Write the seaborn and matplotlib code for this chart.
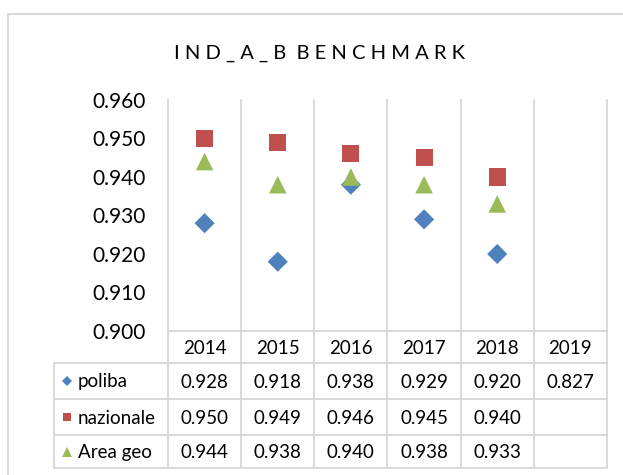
import numpy as np
import pandas as pd
import matplotlib
matplotlib.use("Agg")
import matplotlib.pyplot as plt
import seaborn as sns
from matplotlib.transforms import blended_transform_factory
from matplotlib.lines import Line2D

# ---- data ----
years = ["2014", "2015", "2016", "2017", "2018", "2019"]
poliba = [0.928, 0.918, 0.938, 0.929, 0.920, 0.827]
nazionale = [0.950, 0.949, 0.946, 0.945, 0.940, np.nan]
area_geo = [0.944, 0.938, 0.940, 0.938, 0.933, np.nan]
series_names = ["poliba", "nazionale", "Area geo"]
y_ticks = [0.900, 0.910, 0.920, 0.930, 0.940, 0.950, 0.960]
title = "IND_A_B BENCHMARK"

# ---- style ----
sns.set_style("white")
plt.rcParams["font.family"] = ["Lato", "DejaVu Sans"]

W, H = 623, 475
GRID = "#D9D9D9"
colors = {"poliba": "#4F81BD", "nazionale": "#C0504D", "Area geo": "#9BBB59"}
markers = {"poliba": "D", "nazionale": "s", "Area geo": "^"}
sizes = {"poliba": 105, "nazionale": 150, "Area geo": 160}
leg_ms = {"poliba": 5.0, "nazionale": 5.8, "Area geo": 7.2}


def fx(px):
    return px / W


def fy(py):
    return 1 - py / H


fig = plt.figure(figsize=(W / 100, H / 100), dpi=100)
ax = fig.add_axes([fx(168), fy(331), (607 - 168) / W, (331 - 100) / H])

df = pd.DataFrame({"pos": range(len(years)), "year": years,
                   "poliba": poliba, "nazionale": nazionale, "Area geo": area_geo})
long = df.melt(id_vars=["pos", "year"], var_name="serie", value_name="val").dropna()

for name in series_names:
    sub = long[long["serie"] == name]
    sns.scatterplot(data=sub, x="pos", y="val", marker=markers[name],
                    color=colors[name], s=sizes[name], edgecolor="none",
                    linewidth=0, ax=ax, legend=False, zorder=3)

ax.set_xlim(-0.5, len(years) - 0.5)
ax.set_ylim(y_ticks[0], y_ticks[-1])
ax.set_yticks(y_ticks)
ax.set_yticklabels([f"{v:.3f}" for v in y_ticks])
ax.set_xticks([])
ax.set_xlabel("")
ax.set_ylabel("")
for s in ["top", "right"]:
    ax.spines[s].set_visible(False)
for s in ["left", "bottom"]:
    ax.spines[s].set_color(GRID)
    ax.spines[s].set_linewidth(1.4)
ax.tick_params(axis="y", length=4.3, width=1.4, color=GRID, pad=11.5,
               labelsize=15, labelcolor="black")

# ---- data table ----
trans = blended_transform_factory(ax.transData, fig.transFigure)
top_px, bottom_px = 100, 468
for b in np.arange(-0.5, len(years)):
    ax.plot([b, b], [fy(top_px), fy(bottom_px)], transform=trans,
            color=GRID, lw=1.4, clip_on=False, zorder=1)

row_lines = [331, 363, 399, 435, 468]
for py in row_lines[1:]:
    fig.add_artist(Line2D([fx(54), fx(607)], [fy(py), fy(py)],
                          transform=fig.transFigure, color=GRID, lw=1.4))
fig.add_artist(Line2D([fx(54), fx(54)], [fy(363), fy(468)],
                      transform=fig.transFigure, color=GRID, lw=1.4))

hdr_y = (row_lines[0] + row_lines[1]) / 2
for i, yr in enumerate(years):
    ax.text(i, fy(hdr_y + 1), yr, transform=trans, ha="center", va="center",
            fontsize=13.5, color="black")

series_vals = [poliba, nazionale, area_geo]
for r, (name, vals) in enumerate(zip(series_names, series_vals)):
    yc = (row_lines[r + 1] + row_lines[r + 2]) / 2
    for i, v in enumerate(vals):
        if not np.isnan(v):
            ax.text(i, fy(yc + 1), f"{v:.3f}", transform=trans, ha="center",
                    va="center", fontsize=13.5, color="black")
    fig.add_artist(Line2D([fx(67)], [fy(yc)], transform=fig.transFigure,
                          marker=markers[name], color=colors[name],
                          markersize=leg_ms[name], markeredgewidth=0, linestyle="none"))
    fig.text(fx(78), fy(yc + 1), name, ha="left", va="center",
             fontsize=13.5, color="black")

# ---- chart frame ----
fig.add_artist(Line2D([fx(8), fx(8)], [fy(14), 0], transform=fig.transFigure,
                      color=GRID, lw=1.5))
fig.add_artist(Line2D([fx(8), 1], [fy(14), fy(14)], transform=fig.transFigure,
                      color=GRID, lw=1.5))

# ---- title (letter-spaced) ----
spaced_title = "  ".join(" ".join(w) for w in title.split(" "))
fig.text(fx(320), fy(53), spaced_title, ha="center", va="center",
         fontsize=14.5, color="black")

fig.savefig("out.png", dpi=100)
